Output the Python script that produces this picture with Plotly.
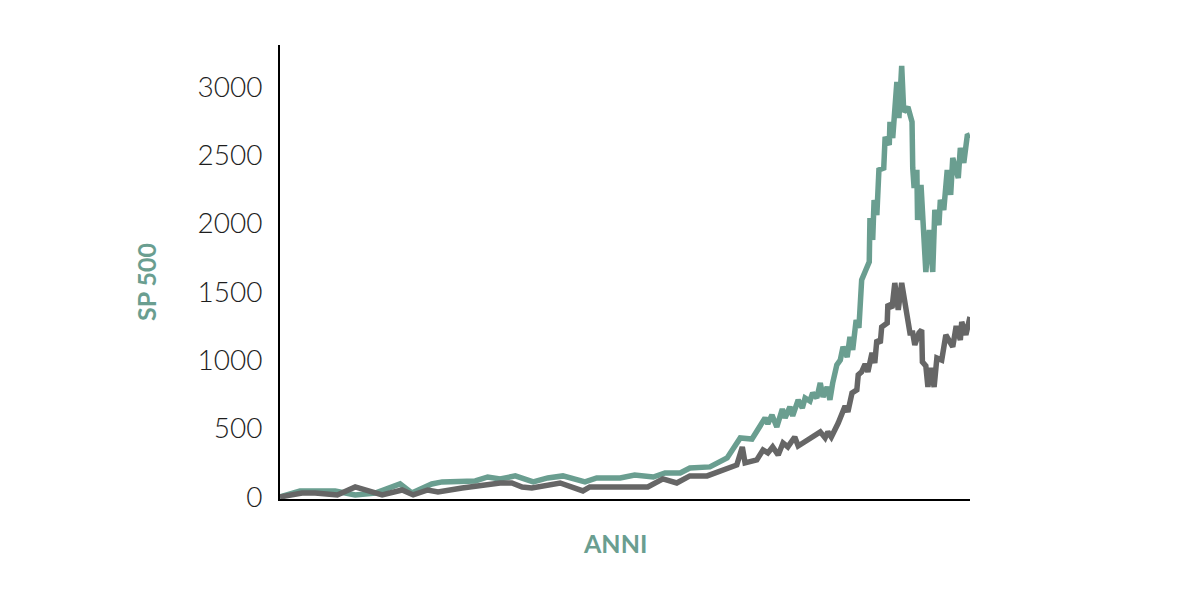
import plotly.graph_objects as go

# Time position (0-100 across the period) and index values
green_x = [0, 1.7, 2.9, 8.0, 9.4, 10.9, 13.8, 17.4, 19.1, 22.0, 23.5, 28.3, 30.1, 31.9, 34.1,
           36.7, 38.8, 41.0, 44.2, 45.9, 49.3, 51.4, 54.1, 55.8, 58.0, 59.4, 62.3, 64.8, 66.7,
           68.4, 70.3, 70.7, 71.3, 72.0, 72.8, 73.2, 73.9, 74.3, 75.1, 75.7, 76.1, 76.8, 77.2,
           77.8, 78.3, 78.7, 79.3, 79.7, 80.1, 80.7, 81.2, 81.6, 82.2, 82.6, 83.0, 83.5, 83.9,
           84.3, 84.9, 85.4, 85.5, 85.9, 86.1, 86.5, 86.8, 87.5, 87.7, 88.3, 88.4, 88.8, 89.4,
           89.7, 90.1, 90.4, 91.0, 91.6, 91.7, 91.9, 92.3, 92.4, 92.9, 93.6, 94.1, 94.6, 94.9,
           95.5, 95.7, 96.2, 96.7, 97.2, 97.5, 98.3, 98.6, 99.1, 99.6, 100]
green_y = [0, 29, 44, 44, 29, 15, 29, 95, 29, 95, 110, 117, 146, 132, 154,
           110, 139, 154, 110, 139, 139, 161, 146, 176, 176, 212, 220, 285, 432,
           424, 578, 534, 600, 512, 644, 578, 659, 593, 710, 651, 724, 702, 761,
           724, 834, 732, 805, 710, 834, 966, 1002, 1098, 1024, 1171, 1076, 1295, 1237,
           1588, 1661, 1720, 2041, 1881, 2173, 2063, 2393, 2407, 2634, 2576, 2744, 2627, 3037,
           2773, 3154, 2817, 2854, 2744, 2407, 2261, 2393, 2027, 2283, 1646, 1954, 1646, 2100,
           1990, 2173, 2100, 2393, 2210, 2480, 2334, 2554, 2444, 2641, 2649]

gray_x = [0, 3.2, 5.1, 8.3, 10.9, 14.8, 17.7, 19.3, 21.4, 22.9, 26.4, 29.3, 31.9, 33.6, 35.1,
          36.5, 40.6, 43.9, 44.9, 53.3, 55.5, 57.5, 59.4, 61.9, 63.8, 66.2, 67.0, 67.4, 69.1,
          70.0, 70.7, 71.4, 72.2, 72.9, 73.6, 74.6, 75.1, 76.5, 78.3, 79.0, 79.4, 79.9, 80.9,
          81.9, 82.3, 82.9, 83.6, 83.8, 84.3, 84.8, 85.2, 85.8, 86.2, 86.5, 87.0, 87.2, 88.0,
          88.1, 88.7, 89.1, 89.6, 90.1, 90.9, 91.3, 91.7, 92.0, 92.6, 93.0, 93.1, 93.6, 93.9,
          94.3, 94.8, 95.2, 95.9, 96.5, 97.5, 98.0, 98.6, 98.8, 99.4, 100]
gray_y = [0, 29, 29, 15, 73, 15, 51, 15, 51, 37, 66, 88, 102, 102, 73,
          66, 102, 44, 73, 73, 132, 102, 154, 154, 190, 234, 366, 249, 271,
          344, 322, 366, 307, 395, 366, 439, 373, 417, 476, 432, 476, 439, 541,
          666, 622, 761, 783, 893, 915, 973, 915, 1054, 980, 1149, 1127, 1244, 1273,
          1412, 1383, 1566, 1368, 1566, 1354, 1200, 1200, 1112, 1200, 1222, 988, 959, 805,
          944, 805, 1017, 1002, 1185, 1098, 1251, 1149, 1281, 1185, 1317]

y_ticks = [0, 500, 1000, 1500, 2000, 2500, 3000]

GREEN = "#6a9e90"
GRAY = "#666666"

W, H = 1170, 584
L, R, T, B = 272, 208, 37, 93

fig = go.Figure()
fig.add_trace(go.Scatter(x=green_x, y=green_y, mode="lines",
                         line=dict(color=GREEN, width=5.5), showlegend=False, hoverinfo="skip"))
fig.add_trace(go.Scatter(x=gray_x, y=gray_y, mode="lines",
                         line=dict(color=GRAY, width=5.5), showlegend=False, hoverinfo="skip"))

pw = W - L - R
ph = H - T - B


def px_to_paper(x, y):
    # page pixel (with 8px body offset) -> paper coords
    return (x - 8 - L) / pw, (H - B - (y - 8)) / ph


ax, ay = px_to_paper(615, 543)
sx, sy = px_to_paper(146, 282)

fig.update_layout(
    width=W, height=H,
    margin=dict(l=L, r=R, t=T, b=B),
    paper_bgcolor="white", plot_bgcolor="white",
    font=dict(family="Lato", color="#222222"),
    xaxis=dict(range=[0, 100], showgrid=False, zeroline=False, showticklabels=False,
               showline=True, linecolor="black", linewidth=2, ticks=""),
    yaxis=dict(range=[-15, 3307], showgrid=False, zeroline=False,
               tickvals=y_ticks, ticktext=[str(v) for v in y_ticks],
               tickfont=dict(family="Lato", size=28, color="#1e1e1e", weight=300),
               showline=True, linecolor="black", linewidth=2, ticks="",
               ticklabelstandoff=10),
    annotations=[
        dict(text="<b>ANNI</b>", x=ax, y=ay, xref="paper", yref="paper", showarrow=False,
             xanchor="center", yanchor="middle",
             font=dict(family="Lato", size=25, color=GREEN)),
        dict(text="<b>SP 500</b>", x=sx, y=sy, xref="paper", yref="paper", showarrow=False,
             xanchor="center", yanchor="middle", textangle=-90,
             font=dict(family="Lato", size=25, color=GREEN)),
    ],
)

fig.write_html("out.html")
